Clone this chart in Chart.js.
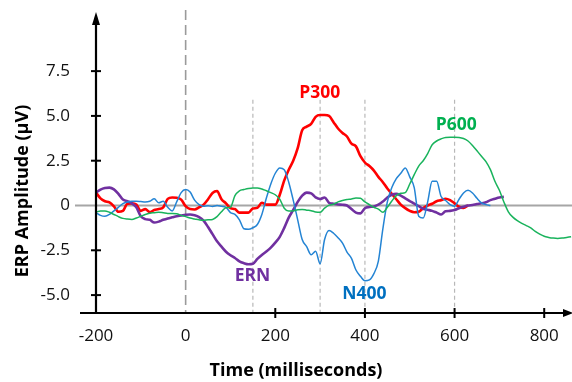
<!DOCTYPE html>
<html>
<head>
<meta charset="utf-8">
<script src="https://cdn.jsdelivr.net/npm/chart.js@4.4.1/dist/chart.umd.min.js"></script>
<style>
html, body { margin: 0; padding: 0; background: #fff; }
#wrap { width: 572px; height: 382px; }
</style>
</head>
<body>
<div id="wrap"><canvas id="erp"></canvas></div>
<script>
// time in ms, 10 ms apart
var times = [-200, -190, -180, -170, -160, -150, -140, -130, -120, -110,
  -100, -90, -80, -70, -60, -50, -40, -30, -20, -10,
  0, 10, 20, 30, 40, 50, 60, 70, 80, 90,
  100, 110, 120, 130, 140, 150, 160, 170, 180, 190,
  200, 210, 220, 230, 240, 250, 260, 270, 280, 290,
  300, 310, 320, 330, 340, 350, 360, 370, 380, 390,
  400, 410, 420, 430, 440, 450, 460, 470, 480, 490,
  500, 510, 520, 530, 540, 550, 560, 570, 580, 590,
  600, 610, 620, 630, 640, 650, 660, 670, 680, 690,
  700, 710, 720, 730, 740, 750, 760, 770, 780, 790,
  800, 810, 820, 830, 840, 850, 860];

// amplitudes in microvolts
var p300 = [0.72, 0.4, 0.24, 0.17, -0.05, -0.35, -0.3, 0.1, 0.12, 0.05,
  -0.3, -0.2, -0.37, -0.25, -0.2, -0.1, 0.37, 0.45, 0.43, 0.33,
  -0.04, -0.2, -0.22, -0.1, 0.05, 0.35, 0.7, 0.8, 0.35, 0.12,
  -0.15, -0.2, -0.4, -0.4, -0.4, -0.17, -0.13, 0.15, 0.05, 0.05,
  0.05, 0.6, 1.4, 2.0, 2.5, 3.2, 4.2, 4.4, 4.55, 4.95,
  5.05, 5.05, 5.0, 4.65, 4.3, 4.05, 3.85, 3.45, 3.3, 2.75,
  2.4, 2.2, 1.95, 1.6, 1.3, 0.95, 0.65, 0.35, 0.05, -0.15,
  -0.3, -0.38, -0.35, -0.15, 0.0, 0.1, 0.24, 0.3, 0.38, 0.3,
  0.12, -0.07, -0.13, 0.0];

var n400 = [-0.4, -0.55, -0.6, -0.5, -0.3, -0.1, 0.1, 0.2, 0.24, 0.24,
  0.22, 0.2, 0.24, 0.37, 0.15, 0.24, -0.1, -0.3, 0.2, 0.72,
  0.89, 0.75, 0.3, 0.05, -0.04, -0.02, -0.05, 0.0, -0.04, -0.1,
  -0.4, -0.5, -0.8, -1.3, -1.33, -1.24, -1.06, -0.5, 0.4, 1.2,
  1.8, 2.1, 2.0, 1.3, 0.3, -0.8, -1.9, -2.3, -2.75, -2.55,
  -3.25, -1.9, -1.4, -1.55, -1.8, -2.1, -2.6, -2.95, -3.6, -3.95,
  -4.2, -4.15, -3.8, -3.1, -1.3, 0.2, 1.0, 1.5, 1.8, 2.1,
  1.6, 1.0, -0.6, -0.7, 0.2, 1.35, 1.35, 0.5, 0.28, 0.05,
  -0.04, 0.35, 0.7, 0.85, 0.7, 0.4, 0.15, 0.05, 0.0];

var ern = [0.72, 0.89, 0.98, 1.0, 0.9, 0.65, 0.33, 0.24, 0.12, -0.1,
  -0.6, -0.76, -0.8, -0.95, -0.9, -0.8, -0.72, -0.66, -0.6, -0.56,
  -0.52, -0.5, -0.55, -0.65, -0.85, -1.2, -1.6, -2.0, -2.3, -2.58,
  -2.78, -2.93, -3.12, -3.22, -3.28, -3.25, -2.98, -2.76, -2.57, -2.35,
  -2.07, -1.75, -1.25, -0.68, -0.25, 0.2, 0.55, 0.72, 0.68, 0.45,
  0.36, 0.45, 0.15, 0.1, 0.06, 0.04, 0.0, -0.2, -0.4, -0.44,
  -0.15, -0.08, -0.05, 0.05, 0.22, 0.45, 0.6, 0.65, 0.55, 0.4,
  0.25, 0.1, -0.04, -0.18, -0.24, -0.3, -0.4, -0.5, -0.32, -0.3,
  -0.25, -0.15, -0.07, 0.0, 0.03, 0.08, 0.12, 0.18, 0.3, 0.38,
  0.45, 0.48];

var p600 = [-0.37, -0.3, -0.3, -0.38, -0.5, -0.62, -0.72, -0.76, -0.78, -0.7,
  -0.6, -0.5, -0.43, -0.4, -0.37, -0.4, -0.44, -0.44, -0.46, -0.55,
  -0.62, -0.7, -0.75, -0.8, -0.83, -0.8, -0.78, -0.62, -0.35, -0.12,
  -0.1, 0.55, 0.82, 0.89, 0.95, 0.98, 0.98, 0.92, 0.82, 0.72,
  0.6, 0.35, -0.15, -0.31, -0.3, -0.24, -0.22, -0.26, -0.29, -0.36,
  -0.38, -0.15, 0.02, 0.07, 0.2, 0.28, 0.33, 0.36, 0.42, 0.4,
  0.2, 0.05, -0.1, -0.2, -0.38, -0.1, 0.25, 0.55, 0.68, 0.72,
  1.2, 1.72, 2.2, 2.5, 2.9, 3.39, 3.6, 3.72, 3.8, 3.81,
  3.81, 3.8, 3.74, 3.6, 3.35, 3.05, 2.75, 2.45, 2.0, 1.35,
  0.85, 0.2, -0.35, -0.65, -0.85, -1.0, -1.12, -1.25, -1.45, -1.6,
  -1.72, -1.78, -1.82, -1.84, -1.82, -1.78, -1.74];

var xTicks = [-200, 0, 200, 400, 600, 800];
var yTicks = [-5, -2.5, 0, 2.5, 5, 7.5];
var markerTimes = [150, 300, 400, 600];

function pts(vals) {
  return vals.map(function (v, i) { return { x: times[i], y: v } })
}

function line(vals, color, width) {
  return {
    data: pts(vals),
    borderColor: color,
    borderWidth: width,
    pointRadius: 0,
    cubicInterpolationMode: 'monotone',
    fill: false
  }
}

var axesPlugin = {
  id: 'erpAxes',
  beforeDatasetsDraw: function (chart) {
    var c = chart.ctx, x = chart.scales.x, y = chart.scales.y
    var y0 = y.getPixelForValue(0)
    c.save()
    // zero line
    c.strokeStyle = '#a6a6a6'
    c.lineWidth = 2
    c.beginPath(); c.moveTo(75, y0); c.lineTo(572, y0); c.stroke()
    // stimulus onset
    c.setLineDash([10, 5])
    c.strokeStyle = '#9a9a9a'
    c.lineWidth = 1.6
    var px = x.getPixelForValue(0)
    c.beginPath(); c.moveTo(px, 10); c.lineTo(px, y.getPixelForValue(-6)); c.stroke()
    // component markers
    c.setLineDash([4, 3])
    c.strokeStyle = '#b8b8b8'
    c.lineWidth = 1.2
    markerTimes.forEach(function (t) {
      var p = x.getPixelForValue(t)
      c.beginPath(); c.moveTo(p, y.getPixelForValue(5.9)); c.lineTo(p, y.getPixelForValue(-6)); c.stroke()
    })
    c.restore()
  },
  afterDatasetsDraw: function (chart) {
    var c = chart.ctx, x = chart.scales.x, y = chart.scales.y
    var ax = x.getPixelForValue(-200), ay = y.getPixelForValue(-6)
    c.save()
    c.strokeStyle = '#000'
    c.fillStyle = '#000'
    c.lineWidth = 2.2
    // y axis + arrow
    c.beginPath(); c.moveTo(ax, 20); c.lineTo(ax, ay); c.stroke()
    c.beginPath(); c.moveTo(ax, 12); c.lineTo(ax - 4, 25); c.lineTo(ax + 4, 25); c.closePath(); c.fill()
    // x axis + arrow
    c.beginPath(); c.moveTo(80, ay); c.lineTo(566, ay); c.stroke()
    c.beginPath(); c.moveTo(573, ay); c.lineTo(563, ay - 4); c.lineTo(563, ay + 4); c.closePath(); c.fill()
    // tick marks
    c.lineWidth = 2
    yTicks.forEach(function (v) {
      if (v === 0) return
      var p = y.getPixelForValue(v)
      c.beginPath(); c.moveTo(ax - 5, p); c.lineTo(ax + 5, p); c.stroke()
    })
    xTicks.forEach(function (v) {
      if (v <= 0) return
      var p = x.getPixelForValue(v)
      c.beginPath(); c.moveTo(p, ay - 5); c.lineTo(p, ay + 5); c.stroke()
    })
    // component labels
    c.font = 'bold 17.5px "Open Sans"'
    c.textAlign = 'center'
    c.textBaseline = 'middle'
    var labels = [['P300', 299, 6.28, '#ff0000'], ['P600', 604, 4.5, '#00b050'],
      ['ERN', 149, -3.94, '#7030a0'], ['N400', 399, -4.94, '#0070c0']]
    labels.forEach(function (l) {
      c.fillStyle = l[3]
      c.fillText(l[0], x.getPixelForValue(l[1]), y.getPixelForValue(l[2]))
    })
    // axis titles
    c.font = 'bold 18px "Open Sans"'
    c.fillStyle = '#000'
    c.fillText('Time (milliseconds)', 296, 371)
    c.translate(23, 191)
    c.rotate(-Math.PI / 2)
    c.fillText('ERP Amplitude (µV)', 0, 0)
    c.restore()
  }
}

new Chart(document.getElementById('erp'), {
  type: 'line',
  data: {
    datasets: [
      line(p600, '#19b35c', 1.5),
      line(n400, '#2484d4', 1.5),
      line(ern, '#7030a0', 2.6),
      line(p300, '#ff0000', 2.6)
    ]
  },
  options: {
    responsive: true,
    maintainAspectRatio: false,
    animation: false,
    layout: { padding: { top: 12, right: 0, left: 0, bottom: 0 } },
    plugins: { legend: { display: false }, tooltip: { enabled: false } },
    scales: {
      x: {
        type: 'linear', min: -200, max: 862,
        afterBuildTicks: function (s) { s.ticks = xTicks.map(function (v) { return { value: v } }) },
        afterFit: function (s) { s.height = 69; s.paddingLeft = 0; s.paddingRight = 0 },
        grid: { display: false, drawTicks: false },
        border: { display: false },
        ticks: { padding: 13, color: '#111', font: { family: 'Open Sans', size: 17 } }
      },
      y: {
        min: -6, max: 10.8,
        afterBuildTicks: function (s) { s.ticks = yTicks.map(function (v) { return { value: v } }) },
        afterFit: function (s) { s.width = 96; s.paddingTop = 0; s.paddingBottom = 0 },
        grid: { display: false, drawTicks: false },
        border: { display: false },
        ticks: {
          padding: 26, color: '#111', font: { family: 'Open Sans', size: 17 },
          callback: function (v) { return v === 0 ? '0' : v.toFixed(1) }
        }
      }
    }
  },
  plugins: [axesPlugin]
})
</script>
</body>
</html>
